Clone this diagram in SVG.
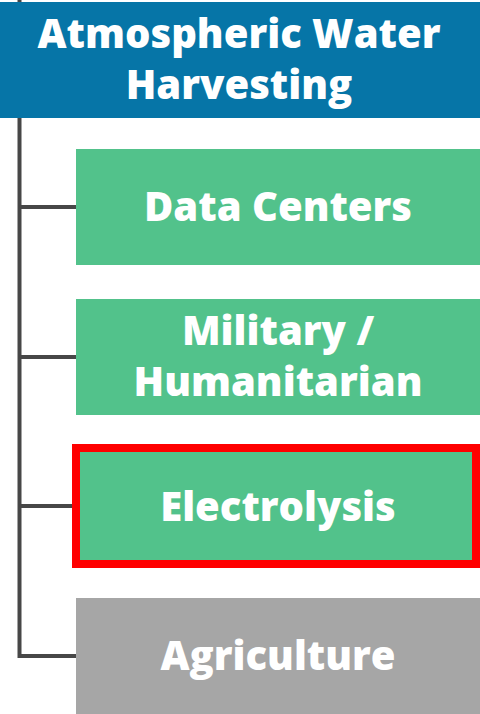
<svg xmlns="http://www.w3.org/2000/svg" width="480" height="714" viewBox="0 0 480 714">
<style>
.t{font-family:"Open Sans",Lato,"Liberation Sans",sans-serif;font-weight:800;font-size:40px;fill:#fff;text-anchor:middle}
.c{stroke:#474747;stroke-width:4;fill:none}
.g{fill:#52C28B}
</style>
<rect width="480" height="714" fill="#fff"/>
<g id="connectors">
<path class="c" d="M19.5 0V656H76"/>
<path class="c" d="M19.5 207H76M19.5 357H76M19.5 506H76"/>
</g>
<g id="root">
<rect x="0" y="2" width="480" height="116" fill="#0675A7"/>
<text class="t" x="239" y="48">Atmospheric Water</text>
<text class="t" x="239" y="99">Harvesting</text>
</g>
<g id="data-centers">
<rect class="g" x="76" y="149" width="404" height="116"/>
<text class="t" x="278" y="221">Data Centers</text>
</g>
<g id="military">
<rect class="g" x="76" y="299" width="404" height="116"/>
<text class="t" x="278" y="345">Military /</text>
<text class="t" x="278" y="396">Humanitarian</text>
</g>
<g id="electrolysis">
<rect class="g" x="76" y="448" width="400" height="116" stroke="#FF0000" stroke-width="8"/>
<text class="t" x="278" y="521">Electrolysis</text>
</g>
<g id="agriculture">
<rect x="76" y="598" width="404" height="116" fill="#A6A6A6"/>
<text class="t" x="278" y="670">Agriculture</text>
</g>
</svg>
